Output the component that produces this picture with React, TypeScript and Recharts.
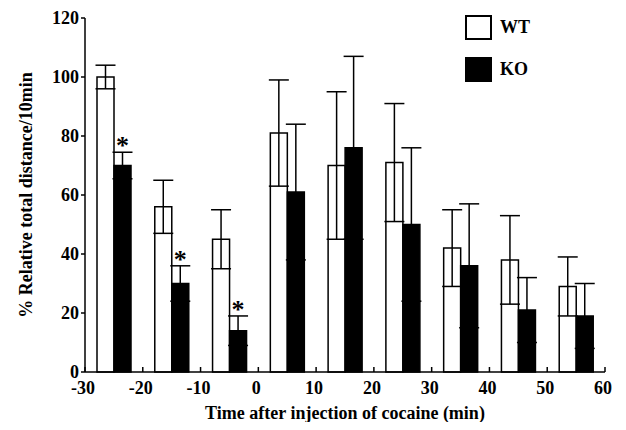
import React from 'react';
import { BarChart, Bar, XAxis, YAxis, ErrorBar, LabelList, Legend } from 'recharts';

// values (mean ± SEM, % of baseline)
const times = [-25, -15, -5, 5, 15, 25, 35, 45, 55];
const wtMeans = [100, 56, 45, 81, 70, 71, 42, 38, 29];
const wtErrors = [4, 9, 10, 18, 25, 20, 13, 15, 10];
const koMeans = [70, 30, 14, 61, 76, 50, 36, 21, 19];
const koErrors = [4.5, 6, 5, 23, 31, 26, 21, 11, 11];
const koMarks = ['*', '*', '*', '', '', '', '', '', ''];
const xTicks = [-30, -20, -10, 0, 10, 20, 30, 40, 50, 60];
const yTicks = [0, 20, 40, 60, 80, 100, 120];

const FONT = '"Liberation Serif", "Times New Roman", serif';

const chartData = times.map((t, i) => ({
  t,
  wt: wtMeans[i],
  wtErr: wtErrors[i],
  ko: koMeans[i],
  koErr: koErrors[i],
  mark: koMarks[i],
}));

const XTick = (props: any) => {
  const { x, y, payload } = props;
  return (
    <g>
      <line x1={x} x2={x} y1={y} y2={y - 5} stroke="#000" strokeWidth={1.5} />
      <text x={x - 2} y={y + 22} textAnchor="middle" fontFamily={FONT} fontWeight="bold" fontSize={18} fill="#000">
        {payload.value}
      </text>
    </g>
  );
};

const renderMark = (props: any) => {
  const { x, y, width, height, value, index } = props;
  if (!value) return null;
  const errPx = (height * koErrors[index]) / koMeans[index];
  return (
    <text x={x + width / 2} y={y - errPx + 2} textAnchor="middle" fontFamily={FONT} fontWeight="bold" fontSize={26} fill="#000">
      {value}
    </text>
  );
};

const renderLegend = () => (
  <div style={{ fontFamily: FONT, fontWeight: 'bold', fontSize: 18, color: '#000' }}>
    <div style={{ display: 'flex', alignItems: 'center', height: 25, marginBottom: 17 }}>
      <span style={{ width: 27, height: 25, border: '2px solid #000', boxSizing: 'border-box', background: '#fff', marginRight: 8 }} />
      WT
    </div>
    <div style={{ display: 'flex', alignItems: 'center', height: 25 }}>
      <span style={{ width: 27, height: 25, background: '#000', marginRight: 8 }} />
      KO
    </div>
  </div>
);

export default function App() {
  return (
    <div style={{ margin: -8, width: 626, height: 430, background: '#fff' }}>
      <BarChart
        width={626}
        height={430}
        data={chartData}
        margin={{ top: 18, right: 21, bottom: 0, left: 10 }}
        barGap={0}
      >
        <XAxis
          type="number"
          dataKey="t"
          domain={[-30, 60]}
          ticks={xTicks}
          height={58}
          tick={<XTick />}
          tickLine={false}
          tickSize={0}
          tickMargin={0}
          axisLine={{ stroke: '#000', strokeWidth: 1.5 }}
          label={{
            value: 'Time after injection of cocaine (min)',
            position: 'insideBottom',
            offset: 11,
            style: { fontFamily: FONT, fontWeight: 'bold', fontSize: 18, fill: '#000' },
          }}
        />
        <YAxis
          domain={[0, 120]}
          ticks={yTicks}
          width={75}
          tickSize={4}
          tickMargin={2}
          tick={{ fontFamily: FONT, fontWeight: 'bold', fontSize: 18, fill: '#000' }}
          tickLine={{ stroke: '#000', strokeWidth: 1.5 }}
          axisLine={{ stroke: '#000', strokeWidth: 1.5 }}
          label={{
            value: '% Relative total distance/10min',
            angle: -90,
            position: 'insideLeft',
            offset: 16,
            style: { textAnchor: 'middle', fontFamily: FONT, fontWeight: 'bold', fontSize: 18, fill: '#000' },
          }}
        />
        <Legend
          layout="vertical"
          align="center"
          verticalAlign="middle"
          content={renderLegend}
          wrapperStyle={{ top: 15, left: 465, width: 120 }}
        />
        <Bar dataKey="wt" barSize={17} fill="#fff" stroke="#000" strokeWidth={1.5} isAnimationActive={false}>
          <ErrorBar dataKey="wtErr" width={10} stroke="#000" strokeWidth={1.5} />
        </Bar>
        <Bar dataKey="ko" barSize={17} fill="#000" stroke="#000" strokeWidth={1.5} isAnimationActive={false}>
          <ErrorBar dataKey="koErr" width={10} stroke="#000" strokeWidth={1.5} />
          <LabelList dataKey="mark" content={renderMark} />
        </Bar>
      </BarChart>
    </div>
  );
}
